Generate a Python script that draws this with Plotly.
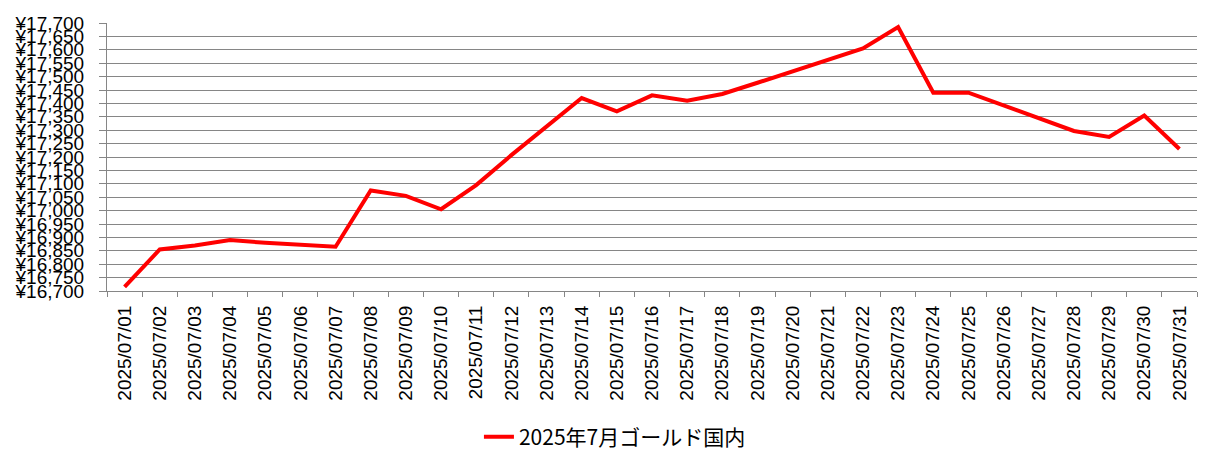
import plotly.graph_objects as go

# 2025年7月 国内金価格（円/g）
dates = ['2025/07/%02d' % d for d in range(1, 32)]
prices = [16715, 16855, 16870, 16890, 16880, 16872, 16865, 17075, 17055, 17005,
          17095, 17207, 17314, 17420, 17370, 17430, 17410, 17435, 17477, 17520,
          17562, 17605, 17685, 17440, 17440, 17392, 17343, 17297, 17275, 17355,
          17230]
series_name = '2025年7月ゴールド国内'

y_ticks = list(range(16700, 17701, 50))
y_labels = ['¥{:,}'.format(v) for v in y_ticks]

fig = go.Figure()
fig.add_trace(go.Scatter(x=dates, y=prices, mode='lines', name=series_name,
                         line=dict(color='#FF0000', width=4)))

# page body has an 8px margin, so offsets are shifted by 8px
fig.update_layout(
    width=1221, height=470,
    margin=dict(l=99, r=32, t=15, b=187),
    plot_bgcolor='white', paper_bgcolor='white',
    font=dict(family='Liberation Sans, Noto Sans CJK JP', size=19, color='black'),
    showlegend=True,
    legend=dict(orientation='h', x=0.466, xanchor='center', y=-0.545, yanchor='middle',
                font=dict(family='Noto Sans CJK JP', size=21)),
)
fig.update_xaxes(
    type='category', range=[-0.5, 30.5], tickangle=-90,
    ticks='outside', tickson='boundaries', ticklen=5, tickcolor='#868686',
    showline=True, linecolor='#868686', linewidth=1,
    showgrid=False, ticklabelstandoff=6, automargin=False,
)
fig.update_yaxes(
    range=[16700, 17700], tickvals=y_ticks, ticktext=y_labels,
    ticks='outside', ticklen=7, tickcolor='#868686',
    showline=True, linecolor='#868686', linewidth=1,
    showgrid=True, gridcolor='#868686', gridwidth=1,
    zeroline=False, ticklabelstandoff=11, automargin=False,
)

fig.write_html('out.html')
